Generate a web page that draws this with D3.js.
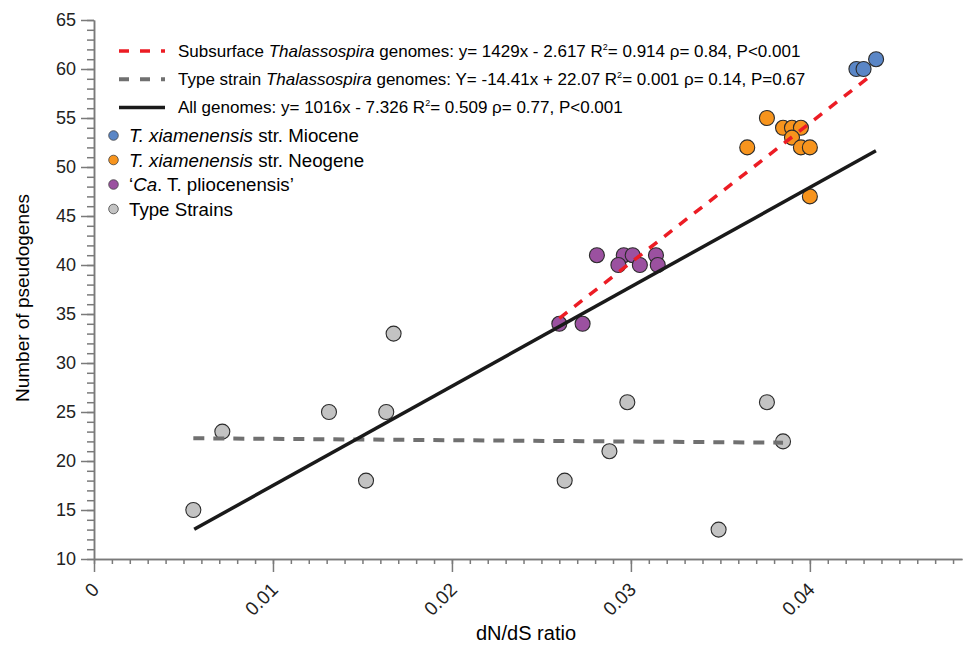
<!DOCTYPE html>
<html>
<head>
<meta charset="utf-8">
<script src="https://cdn.jsdelivr.net/npm/d3@7"></script>
<style>
  body { margin: 0; background: #fff; }
  svg { font-family: "Liberation Sans", Arial, sans-serif; }
  .axis path, .axis line { stroke: #7a7a7a; stroke-width: 1.5px; }
  .axis text { font-family: "Liberation Sans", Arial, sans-serif; font-size: 18px; fill: #222; }
</style>
</head>
<body>
<svg width="964" height="645"></svg>
<script>
// values (dN/dS ratio, number of pseudogenes)
var mioceneX = [0.0426, 0.0430, 0.0437],
    mioceneY = [60, 60, 61];
var neogeneX = [0.0376, 0.0385, 0.0390, 0.0395, 0.0390, 0.0365, 0.0395, 0.0400, 0.0400],
    neogeneY = [55, 54, 54, 54, 53, 52, 52, 52, 47];
var plioX = [0.0281, 0.0296, 0.0301, 0.0314, 0.0293, 0.0305, 0.0315, 0.0260, 0.0273],
    plioY = [41, 41, 41, 41, 40, 40, 40, 34, 34];
var typeX = [0.00555, 0.00717, 0.01313, 0.01633, 0.01674, 0.0152, 0.0263, 0.0288, 0.0298, 0.0349, 0.0376, 0.0385],
    typeY = [15, 23, 25, 25, 33, 18, 18, 21, 26, 13, 26, 22];

// regression line end points
var subFitX = [0.0260, 0.04345], subFitY = [34.56, 59.39];
var typeFitX = [0.00555, 0.0385], typeFitY = [22.32, 21.87];
var allFitX = [0.0056, 0.04369], allFitY = [13.03, 51.66];

var xMajor = [0, 0.01, 0.02, 0.03, 0.04],
    xLabels = ["0", "0.01", "0.02", "0.03", "0.04"];
var yMajor = [10, 15, 20, 25, 30, 35, 40, 45, 50, 55, 60, 65];

var svg = d3.select("svg"),
    margin = {top: 20, right: 2, bottom: 86, left: 94},
    width = svg.attr("width") - margin.left - margin.right,
    height = svg.attr("height") - margin.top - margin.bottom,
    g = svg.append("g").attr("transform", "translate(" + margin.left + "," + margin.top + ")");

var x = d3.scaleLinear().domain([0, 0.0485]).range([0, width]),
    y = d3.scaleLinear().domain([10, 65]).range([height, 0]);

/* axes: minor ticks first, then major ones with labels */
var xMinor = d3.range(0, 49).map(function (i) { return i / 1000; });
var yMinor = d3.range(10, 66);

g.append("g").attr("class", "axis")
    .attr("transform", "translate(0," + height + ")")
    .call(d3.axisBottom(x).tickValues(xMinor).tickSize(5).tickSizeOuter(0).tickFormat(""));
var xAxis = g.append("g").attr("class", "axis")
    .attr("transform", "translate(0," + height + ")")
    .call(d3.axisBottom(x).tickValues(xMajor).tickSize(13).tickSizeOuter(0)
        .tickFormat(function (d, i) { return xLabels[i]; }));
xAxis.selectAll("text")
    .attr("text-anchor", "end")
    .attr("y", 0)
    .attr("dy", "0.35em")
    .attr("transform", "translate(1,27) rotate(-45)")
    .style("font-size", "19px");

g.append("g").attr("class", "axis")
    .call(d3.axisLeft(y).tickValues(yMinor).tickSize(7).tickSizeOuter(0).tickFormat(""));
g.append("g").attr("class", "axis")
    .call(d3.axisLeft(y).tickValues(yMajor).tickSize(13).tickSizeOuter(0).tickPadding(5));

svg.append("text")
    .attr("transform", "translate(29," + (margin.top + 278) + ") rotate(-90)")
    .attr("text-anchor", "middle")
    .style("font-size", "19px")
    .text("Number of pseudogenes");

svg.append("text")
    .attr("x", 526).attr("y", 640)
    .attr("text-anchor", "middle")
    .style("font-size", "20px")
    .text("dN/dS ratio");

/* points */
function drawGroup(xs, ys, fill) {
    g.append("g").selectAll("circle")
        .data(xs)
        .enter().append("circle")
        .attr("cx", function (d) { return x(d); })
        .attr("cy", function (d, i) { return y(ys[i]); })
        .attr("r", 7.5)
        .attr("fill", fill)
        .attr("stroke", "#2b2b2b")
        .attr("stroke-width", 1.1);
}
drawGroup(typeX, typeY, "#c3c3c3");
drawGroup(plioX, plioY, "#9b51a0");
drawGroup(neogeneX, neogeneY, "#f7941d");
drawGroup(mioceneX, mioceneY, "#5a86c6");

/* fit lines */
var fits = [
    {xs: typeFitX, ys: typeFitY, color: "#707070", dash: "11,9", w: 4},
    {xs: allFitX, ys: allFitY, color: "#1a1a1a", dash: null, w: 3.5},
    {xs: subFitX, ys: subFitY, color: "#ec1c24", dash: "10,9", w: 3.5}
];
fits.forEach(function (f) {
    g.append("line")
        .attr("x1", x(f.xs[0])).attr("y1", y(f.ys[0]))
        .attr("x2", x(f.xs[1])).attr("y2", y(f.ys[1]))
        .attr("stroke", f.color)
        .attr("stroke-width", f.w)
        .attr("stroke-dasharray", f.dash);
});

/* legend: fit lines */
var lineLegend = [
    {color: "#ec1c24", dash: "10,11", w: 3.5,
     parts: [["Subsurface ", 0], ["Thalassospira", 1], [" genomes: y= 1429x - 2.617 R", 0], ["2", 2], ["= 0.914 \u03c1= 0.84, P<0.001", 0]]},
    {color: "#707070", dash: "10,11", w: 4,
     parts: [["Type strain ", 0], ["Thalassospira", 1], [" genomes: Y= -14.41x + 22.07 R", 0], ["2", 2], ["= 0.001 \u03c1= 0.14, P=0.67", 0]]},
    {color: "#1a1a1a", dash: null, w: 3.5,
     parts: [["All genomes: y= 1016x - 7.326 R", 0], ["2", 2], ["= 0.509 \u03c1= 0.77, P<0.001", 0]]}
];
lineLegend.forEach(function (d, i) {
    var ly = 51 + i * 28.2;
    svg.append("line")
        .attr("x1", 119).attr("x2", 165)
        .attr("y1", ly).attr("y2", ly)
        .attr("stroke", d.color)
        .attr("stroke-width", d.w)
        .attr("stroke-dasharray", d.dash);
    var t = svg.append("text").attr("x", 178).attr("y", ly + 6).style("font-size", "17px");
    d.parts.forEach(function (p) {
        var s = t.append("tspan").text(p[0]);
        if (p[1] === 1) s.style("font-style", "italic");
        if (p[1] === 2) s.style("font-size", "9px").attr("dy", -7);
        if (p[1] === 0 && p[0].charAt(0) === "=") s.attr("dy", 7);
    });
});

/* legend: groups */
var groupLegend = [
    {fill: "#5a86c6", parts: [["T. xiamenensis", 1], [" str. Miocene", 0]]},
    {fill: "#f7941d", parts: [["T. xiamenensis", 1], [" str. Neogene", 0]]},
    {fill: "#9b51a0", parts: [["\u2018", 0], ["Ca", 1], [". T. pliocenensis\u2019", 0]]},
    {fill: "#c3c3c3", parts: [["Type Strains", 0]]}
];
groupLegend.forEach(function (d, i) {
    var ly = 135.5 + i * 24.5;
    svg.append("circle")
        .attr("cx", 113.5).attr("cy", ly).attr("r", 4.8)
        .attr("fill", d.fill)
        .attr("stroke", "#444").attr("stroke-width", 0.8);
    var t = svg.append("text").attr("x", 129).attr("y", ly + 6.5).style("font-size", "18.7px");
    d.parts.forEach(function (p) {
        var s = t.append("tspan").text(p[0]);
        if (p[1] === 1) s.style("font-style", "italic");
    });
});
</script>
</body>
</html>
